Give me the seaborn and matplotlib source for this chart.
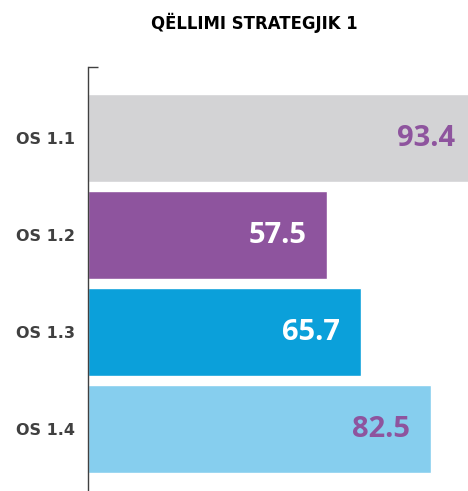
import matplotlib
matplotlib.use("Agg")
import matplotlib.pyplot as plt
import seaborn as sns
import pandas as pd

# chart data
categories = ["OS 1.1", "OS 1.2", "OS 1.3", "OS 1.4"]
values = [93.4, 57.5, 65.7, 82.5]
bar_colors = ["#D3D3D5", "#8E549E", "#0BA0DA", "#86CEEE"]
label_colors = ["#8E549E", "#FFFFFF", "#FFFFFF", "#8E549E"]
title = "QËLLIMI STRATEGJIK 1"

sns.set_style("white")
plt.rcParams['font.family'] = ['Open Sans', 'DejaVu Sans']

df = pd.DataFrame({"cat": categories, "val": values})

fig = plt.figure(figsize=(4.68, 4.91), dpi=100)
ax = fig.add_axes([88 / 468, 0.0, 1 - 88 / 468, 1 - 67 / 491])

sns.barplot(data=df, x="val", y="cat", hue="cat", palette=bar_colors,
            legend=False, width=0.907, saturation=1, ax=ax)

ax.set_xlim(0, 91.4)
ax.set_ylim(3.639, -0.732)

# value labels inside bar ends
for i, (v, c) in enumerate(zip(values, label_colors)):
    ax.annotate(f"{v}", xy=(v, i), xytext=(-15, 0),
                textcoords="offset points", ha="right", va="center",
                fontsize=21, fontweight="bold", color=c, annotation_clip=False)

ax.set_xlabel("")
ax.set_ylabel("")
ax.set_xticks([])
for side in ["top", "right", "bottom"]:
    ax.spines[side].set_visible(False)
ax.spines["left"].set_color("#404040")
ax.spines["left"].set_linewidth(1.0)

ax.tick_params(axis="y", which="major", length=0, pad=9, labelsize=11.5,
               labelcolor="#404040")
for lab in ax.get_yticklabels():
    lab.set_fontweight("bold")
    lab.set_family(["DejaVu Sans"])

# small tick at top end of the axis
ax.set_yticks([-0.732], minor=True)
ax.tick_params(axis="y", which="minor", direction="in", length=7,
               width=1.0, color="#404040", left=True)

fig.text(0.543, 1 - 29 / 491, title, ha="center", va="baseline",
         fontsize=11.9, fontweight="bold", color="#000000",
         family=["DejaVu Sans"])

fig.savefig("out.png", dpi=100)
